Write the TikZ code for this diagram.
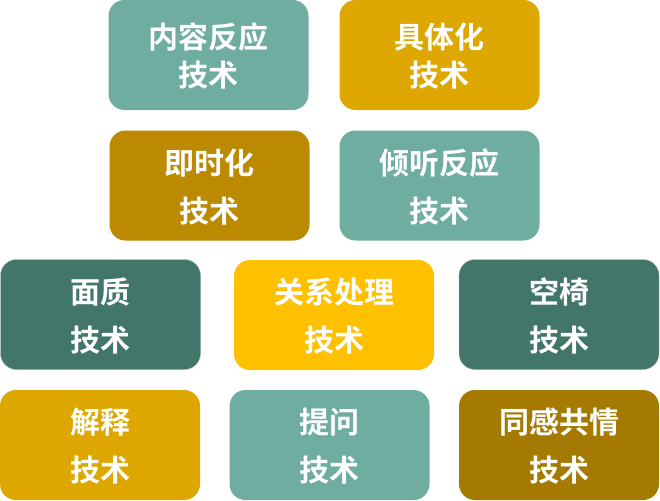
\documentclass[tikz,border=0pt]{standalone}
\usepackage{fontspec}
\newfontfamily\cjk{Noto Sans CJK SC}[BoldFont={* Bold}]
\definecolor{lteal}{RGB}{111,173,160}
\definecolor{dteal}{RGB}{67,118,106}
\definecolor{gold}{RGB}{221,167,0}
\definecolor{dgold}{RGB}{187,138,0}
\definecolor{ylw}{RGB}{255,192,0}
\definecolor{brgold}{RGB}{164,122,0}
\begin{document}
\begin{tikzpicture}[x=1pt,y=-1pt,inner sep=0pt,outer sep=0pt,
techbox/.style={rectangle,rounded corners=16pt,minimum width=200pt,minimum height=110pt,
  align=center,text=white,text depth=-4pt,font=\cjk\bfseries\fontsize{30}{48}\selectfont},
tightbox/.style={techbox,text depth=0pt,font=\cjk\bfseries\fontsize{30}{38}\selectfont}]
\useasboundingbox (0,0) rectangle (660,500);
% top two rows
\draw (208.5,55) node[tightbox,fill=lteal] (content) {内容反应\\技术};
\draw (439.5,55) node[tightbox,fill=gold] (concrete) {具体化\\技术};
\draw (209.5,185.5) node[techbox,fill=dgold] (immediate) {即时化\\技术};
\draw (439.5,185.5) node[techbox,fill=lteal] (listen) {倾听反应\\技术};
% third row
\draw (100.5,314.5) node[techbox,fill=dteal,draw=gray!60,thin] (confront) {面质\\技术};
\draw (334,315) node[techbox,fill=ylw] (relation) {关系处理\\技术};
\draw (559,314.5) node[techbox,fill=dteal,draw=gray!60,thin] (chair) {空椅\\技术};
% bottom row
\draw (100,445) node[techbox,fill=gold] (explain) {解释\\技术};
\draw (329.5,445) node[techbox,fill=lteal] (question) {提问\\技术};
\draw (559,445) node[techbox,fill=brgold] (empathy) {同感共情\\技术};
\end{tikzpicture}
\end{document}
